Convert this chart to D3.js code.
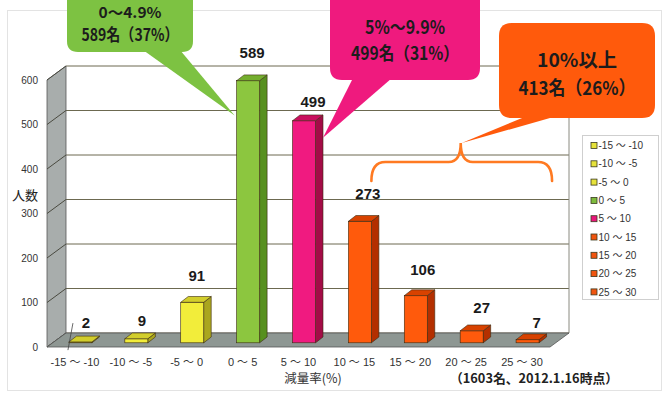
<!DOCTYPE html>
<html>
<head>
<meta charset="utf-8">
<script src="https://cdn.jsdelivr.net/npm/d3@7"></script>
<style>
  html, body { margin: 0; padding: 0; background: #fff; }
  svg { display: block; }
</style>
</head>
<body>
<div id="chart"></div>
<script>
// ---- data ----
const categories = ["-15 ～ -10", "-10 ～ -5", "-5 ～ 0", "0 ～ 5", "5 ～ 10", "10 ～ 15", "15 ～ 20", "20 ～ 25", "25 ～ 30"];
const values = [2, 9, 91, 589, 499, 273, 106, 27, 7];
const groups = ["low", "low", "low", "mid", "high", "top", "top", "top", "top"];
const yTicks = [0, 100, 200, 300, 400, 500, 600];
const yTitle = "人数";
const xTitle = "減量率(%)";
const note = "（1603名、2012.1.16時点）";
const calloutRange = ["0～4.9%", "5%～9.9%", "10%以上"];
const calloutCount = ["589名（37%）", "499名（31%）", "413名（26%）"];

// ---- styling ----
const palette = {
  low:  { front: "#f2ed3a", side: "#aaa61e", top: "#d2ce2c", key: "#e6e23a" },
  mid:  { front: "#8cc63f", side: "#57901f", top: "#74ae2e", key: "#7dbb3c" },
  high: { front: "#f01a80", side: "#a30c47", top: "#c9105e", key: "#e8167a" },
  top:  { front: "#ff5a0c", side: "#b32f00", top: "#d84200", key: "#f0540e" }
};
const calloutFill = ["#7dc242", "#ef1a7e", "#ff5a0c"];

const W = 666, H = 395;
const svg = d3.select("#chart").append("svg").attr("width", W).attr("height", H);
svg.append("rect").attr("width", W).attr("height", H).attr("fill", "#fff");

// chart area frame
svg.append("rect").attr("x", 7.5).attr("y", 10.5).attr("width", 654).attr("height", 380)
  .attr("fill", "none").attr("stroke", "#e3e3e3");

// ---- scales (front plane) + depth vector ----
const x = d3.scaleBand().domain(categories).range([47, 550]);
const y = d3.scaleLinear().domain([0, 600]).range([347, 80]);
const DX = 19, DY = -14;           // full floor depth
const BAR_W = 23, BDX = 7.5, BDY = -5.8, BZ = 4.2, BSHIFT = 5.5;

const x0 = x.range()[0], x1 = x.range()[1];
const font = "'Liberation Sans', Arial, 'Noto Sans CJK JP', sans-serif";
const jp = "'Noto Sans CJK JP', 'Liberation Sans', sans-serif";

// back wall
svg.append("polygon")
  .attr("points", [[x0 + DX, y(600) + DY], [x1 + DX, y(600) + DY], [x1 + DX, y(0) + DY], [x0 + DX, y(0) + DY]].join(" "))
  .attr("fill", "#fff");

// gridlines on back wall
svg.append("g").selectAll("line").data(yTicks).join("line")
  .attr("x1", x0 + DX).attr("x2", x1 + DX)
  .attr("y1", d => y(d) + DY).attr("y2", d => y(d) + DY)
  .attr("stroke", "#6c6950").attr("stroke-width", 1);

// right edge of back wall
svg.append("line").attr("x1", x1 + DX).attr("x2", x1 + DX)
  .attr("y1", y(600) + DY).attr("y2", y(0) + DY)
  .attr("stroke", "#8a8a80").attr("stroke-width", 1);

// left wall
svg.append("polygon")
  .attr("points", [[x0, y(600)], [x0 + DX, y(600) + DY], [x0 + DX, y(0) + DY], [x0, y(0)]].join(" "))
  .attr("fill", "#a8adac").attr("stroke", "#555").attr("stroke-width", 0.8);
svg.append("g").selectAll("line").data(yTicks).join("line")
  .attr("x1", x0).attr("x2", x0 + DX)
  .attr("y1", d => y(d)).attr("y2", d => y(d) + DY)
  .attr("stroke", "#4a4a40").attr("stroke-width", 1);

// floor
svg.append("polygon")
  .attr("points", [[x0, y(0)], [x0 + DX, y(0) + DY], [x1 + DX, y(0) + DY], [x1, y(0)]].join(" "))
  .attr("fill", "#8e9793").attr("stroke", "#555").attr("stroke-width", 0.8);

// y tick labels
svg.append("g").selectAll("text").data(yTicks).join("text")
  .attr("x", 38).attr("y", d => y(d) + 3.5)
  .attr("text-anchor", "end").attr("font-family", font).attr("font-size", 10)
  .attr("fill", "#333").text(d => d);

svg.append("text").attr("x", 25).attr("y", 200).attr("text-anchor", "middle")
  .attr("font-family", jp).attr("font-size", 13).attr("fill", "#222").text(yTitle);

// ---- bars ----
const barLeft = c => x(c) + x.bandwidth() / 2 - BAR_W / 2 + BSHIFT;
const bars = svg.append("g").selectAll("g").data(categories).join("g");
bars.each(function (c, i) {
  const g = d3.select(this);
  const p = palette[groups[i]];
  const L = barLeft(c), R = L + BAR_W;
  const base = y(0) - BZ, top = y(values[i]) - BZ;
  g.append("polygon")
    .attr("points", [[R, top], [R + BDX, top + BDY], [R + BDX, base + BDY], [R, base]].join(" "))
    .attr("fill", p.side).attr("stroke", "#3a2a10").attr("stroke-width", 0.6);
  g.append("rect").attr("x", L).attr("y", top).attr("width", BAR_W).attr("height", Math.max(0.01, base - top))
    .attr("fill", p.front).attr("stroke", "#3a2a10").attr("stroke-width", 0.6);
  g.append("polygon")
    .attr("points", [[L, top], [L + BDX, top + BDY], [R + BDX, top + BDY], [R, top]].join(" "))
    .attr("fill", p.top).attr("stroke", "#3a2a10").attr("stroke-width", 0.6);
});

// value labels (per-label nudges for readability)
const labelDx = [5.5, 5.5, 4.5, 4, 9, 8, 7, 10, 9];
const labelLift = [8, 6.5, 16, 16.5, 7.5, 17, 15, 11.5, 6];
svg.append("g").selectAll("text").data(categories).join("text")
  .attr("x", (c, i) => barLeft(c) + BAR_W / 2 + labelDx[i])
  .attr("y", (c, i) => y(values[i]) - BZ + BDY - labelLift[i])
  .attr("text-anchor", "middle").attr("font-family", font).attr("font-weight", "bold")
  .attr("font-size", 15).attr("fill", "#1a1a1a")
  .text((c, i) => values[i]);

// leader for the smallest label
{
  const lx = barLeft(categories[0]) + BAR_W / 2 + labelDx[0];
  const ly = y(values[0]) - BZ + BDY - labelLift[0];
  svg.append("line").attr("x1", lx - 13).attr("y1", ly - 5).attr("x2", lx - 18).attr("y2", ly + 22)
    .attr("stroke", "#444").attr("stroke-width", 0.8);
}

// x labels
svg.append("g").selectAll("text").data(categories).join("text")
  .attr("x", c => x(c) + x.bandwidth() / 2).attr("y", 366)
  .attr("text-anchor", "middle").attr("font-family", font).attr("font-size", 11)
  .attr("fill", "#333").text(c => c);

svg.append("text").attr("x", 313).attr("y", 383).attr("text-anchor", "middle")
  .attr("font-family", jp).attr("font-size", 12.5).attr("fill", "#333").text(xTitle);

svg.append("text").attr("x", 534).attr("y", 383).attr("text-anchor", "middle")
  .attr("font-family", jp).attr("font-size", 13).attr("font-weight", "bold").attr("fill", "#222")
  .attr("textLength", 168).attr("lengthAdjust", "spacingAndGlyphs").text(note);

// ---- legend ----
const lg = svg.append("g");
lg.append("rect").attr("x", 582.5).attr("y", 135.5).attr("width", 76).attr("height", 164)
  .attr("fill", "#fff").attr("stroke", "#cfcfcf");
categories.forEach((c, i) => {
  const cy = 145.5 + i * 18.3;
  lg.append("rect").attr("x", 591).attr("y", cy - 3).attr("width", 6).attr("height", 6)
    .attr("fill", palette[groups[i]].key).attr("stroke", "#3a3a20").attr("stroke-width", 0.8);
  lg.append("text").attr("x", 598.5).attr("y", cy + 3.6).attr("font-family", font)
    .attr("font-size", 10).attr("fill", "#333").text(c);
});

// ---- brace over the 10%+ bars ----
const bL = barLeft(categories[5]) + BAR_W;
const bR = barLeft(categories[8]) + BAR_W + 13;
const bM = (bL + bR) / 2 - 1;
const yEnd = 181, yMid = 162, yPeak = 143;
svg.append("path")
  .attr("d", `M${bL},${yEnd} C${bL},${yMid + 7} ${bL + 4},${yMid} ${bL + 14},${yMid}
     L${bM - 12},${yMid} C${bM - 4},${yMid} ${bM},${yMid - 6} ${bM},${yPeak}
     C${bM},${yMid - 6} ${bM + 4},${yMid} ${bM + 12},${yMid}
     L${bR - 14},${yMid} C${bR - 4},${yMid} ${bR},${yMid + 7} ${bR},${yEnd}`)
  .attr("fill", "none").attr("stroke", "#ff7a22").attr("stroke-width", 2.6).attr("stroke-linecap", "round");

// ---- callouts ----
function roundRect(x0, y0, x1, y1, r) {
  return `M${x0 + r},${y0} L${x1 - r},${y0} Q${x1},${y0} ${x1},${y0 + r} L${x1},${y1 - r} Q${x1},${y1} ${x1 - r},${y1}
          L${x0 + r},${y1} Q${x0},${y1} ${x0},${y1 - r} L${x0},${y0 + r} Q${x0},${y0} ${x0 + r},${y0} Z`;
}
const callouts = [
  { box: [67, -14, 193, 52], r: 11, tail: [[143, 50], [barLeft(categories[3]) - 2, y(520)], [180, 50]],
    lines: [{ y: 18, size: 15, len: 63 }, { y: 41, size: 17, len: 97 }] },
  { box: [330, -14, 480, 80], r: 12, tail: [[353, 78], [barLeft(categories[4]) + BAR_W + BDX, y(470)], [392, 78]],
    lines: [{ y: 34, size: 18, len: 80 }, { y: 60, size: 18, len: 108 }] },
  { box: [499, 23, 655, 118], r: 13, tail: [[527, 116], [bM + 1, yPeak], [557, 116]],
    lines: [{ y: 67, size: 19, len: 80 }, { y: 95, size: 19, len: 117 }] }
];
callouts.forEach((co, i) => {
  const g = svg.append("g");
  g.append("path").attr("d", roundRect(...co.box, co.r)).attr("fill", calloutFill[i]);
  g.append("polygon").attr("points", co.tail.join(" ")).attr("fill", calloutFill[i]);
  const cx = (co.box[0] + co.box[2]) / 2;
  [calloutRange[i], calloutCount[i]].forEach((t, k) => {
    g.append("text").attr("x", cx).attr("y", co.lines[k].y).attr("text-anchor", "middle")
      .attr("font-family", jp).attr("font-weight", "bold").attr("font-size", co.lines[k].size)
      .attr("fill", "#1c1c1c").attr("textLength", co.lines[k].len).attr("lengthAdjust", "spacingAndGlyphs")
      .text(t);
  });
});
</script>
</body>
</html>
